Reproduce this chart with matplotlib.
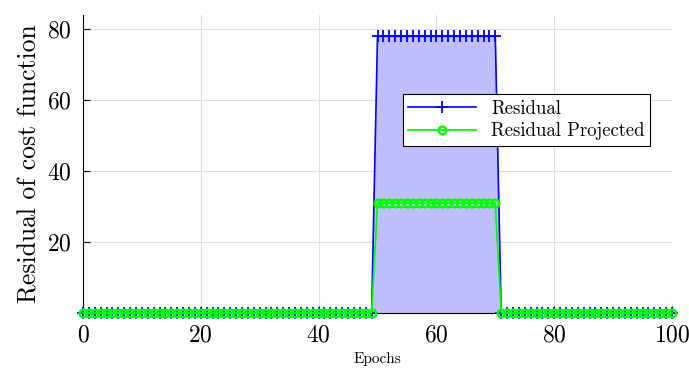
import matplotlib
matplotlib.use("Agg")
import matplotlib.pyplot as plt
import numpy as np

plt.rcParams['font.family'] = 'serif'
plt.rcParams['font.serif'] = ['cmr10', 'DejaVu Serif']
plt.rcParams['mathtext.fontset'] = 'cm'
plt.rcParams['axes.formatter.use_mathtext'] = True

# data
epochs = np.arange(0, 101)
residual = np.zeros(101)
residual[50:71] = 78.0
projected = np.zeros(101)
projected[50:71] = 31.0

fig = plt.figure(figsize=(6.89, 3.83), dpi=100)
ax = fig.add_axes([83 / 689, 1 - 313 / 383, 589 / 689, 298 / 383])

ax.fill_between(epochs, 0, residual, color=(0.75, 0.75, 1.0), linewidth=0, zorder=1)
ax.plot(epochs, residual, color='blue', marker='+', markersize=9, mew=1.3,
        linewidth=1.2, label='Residual', zorder=3, clip_on=False)
ax.plot(epochs, projected, color=(0, 1, 0), marker='o', markersize=5.5, mew=1.8,
        markerfacecolor='none', linewidth=1.3, label='Residual Projected',
        zorder=3, clip_on=False)

ax.set_xlim(0, 100)
ax.set_ylim(0, 84)
ax.set_xticks([0, 20, 40, 60, 80, 100])
ax.set_yticks([20, 40, 60, 80])
ax.grid(True, color=(0.87, 0.87, 0.87), linewidth=0.8, zorder=0)
ax.set_axisbelow(True)
ax.spines['top'].set_visible(False)
ax.spines['right'].set_visible(False)
ax.tick_params(direction='in', labelsize=17, length=5, pad=8)

ax.set_xlabel('Epochs', fontsize=11)
ax.set_ylabel('Residual of cost function', fontsize=18.5, labelpad=4)

leg = ax.legend(loc='upper left', bbox_to_anchor=(0.543, 0.735), fontsize=13.5,
                fancybox=False, framealpha=1, edgecolor='black',
                borderpad=0.3, borderaxespad=0, handlelength=3.6,
                labelspacing=0.25)
leg.get_frame().set_linewidth(0.8)

fig.savefig('out.png', dpi=100)
